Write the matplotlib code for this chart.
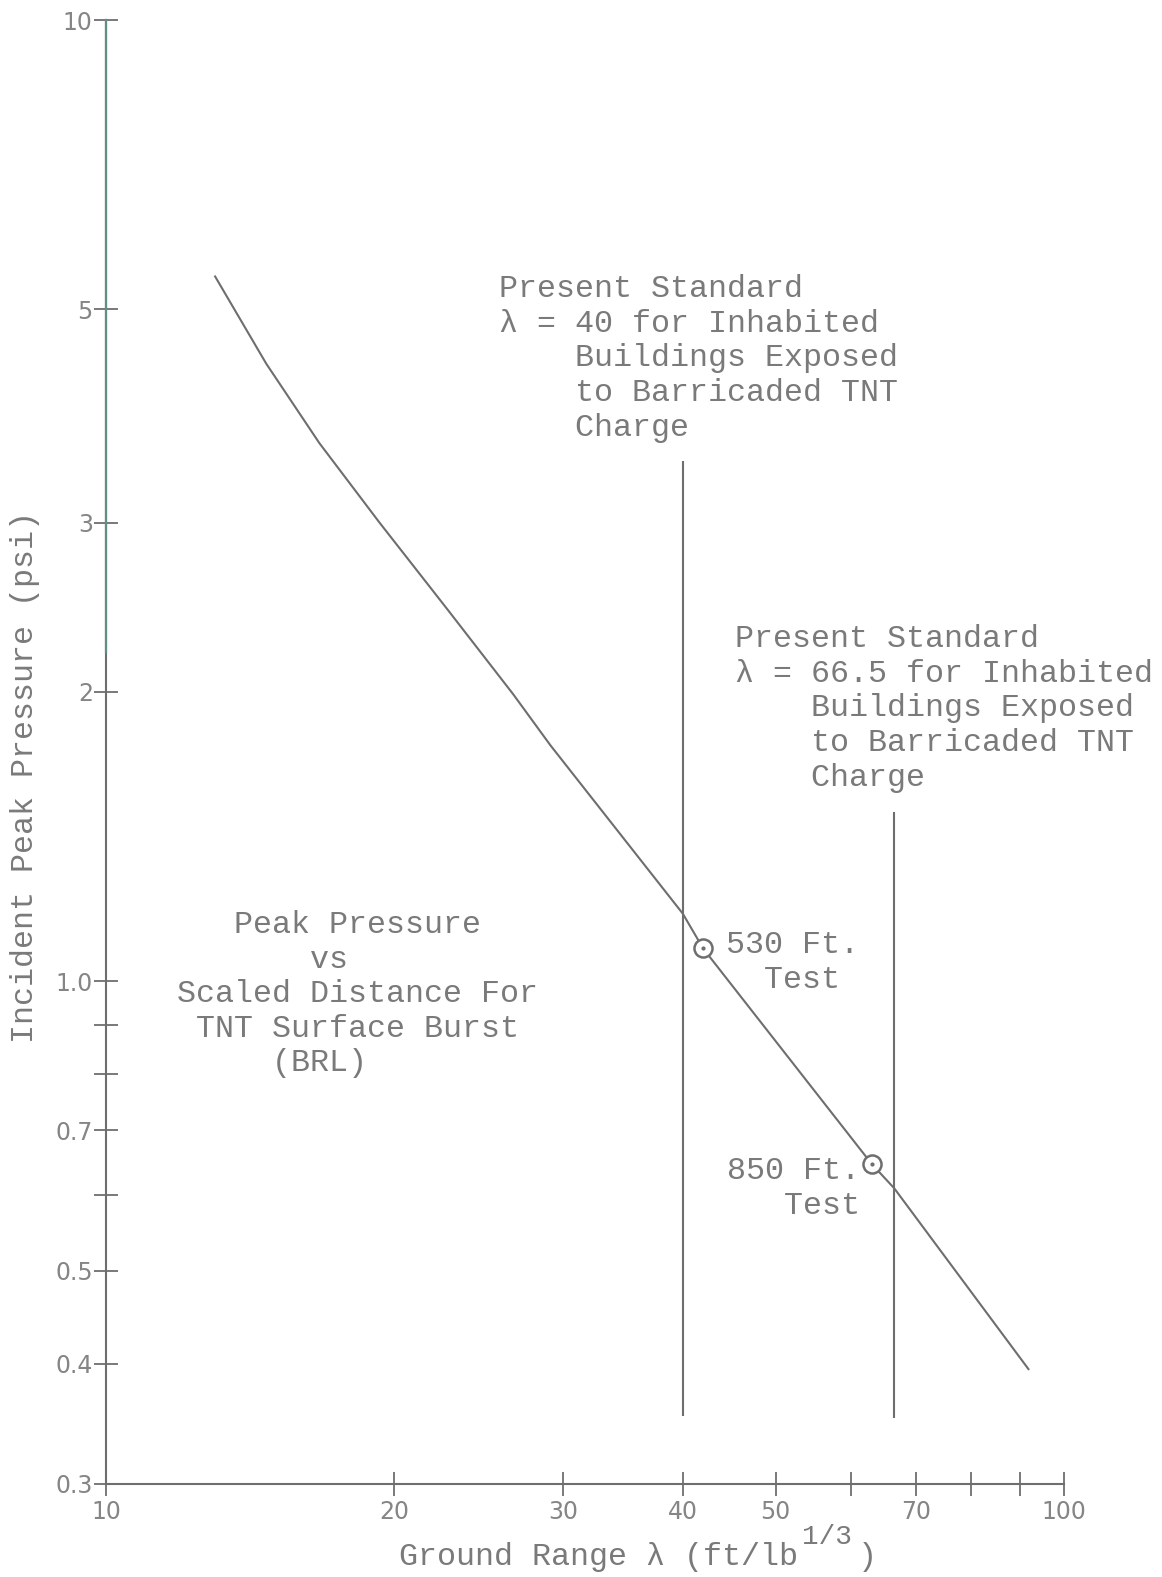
import matplotlib
matplotlib.use("Agg")
import matplotlib.pyplot as plt
from matplotlib.ticker import FixedLocator, FixedFormatter, NullLocator

# === Curve: peak pressure vs scaled distance (BRL) ===
lam = [13.0, 14.7, 16.7, 19.3, 22.7, 26.6, 29.1, 40.0, 42.0, 63.0, 66.5, 91.8]
psi = [5.41, 4.39, 3.63, 3.00, 2.44, 1.99, 1.76, 1.176, 1.082, 0.6455, 0.609, 0.395]

# === Test points ===
test_lam = [42.0, 63.0]
test_psi = [1.082, 0.6455]
test_labels = ["530 Ft.\n  Test", "850 Ft.\n   Test"]
test_text_pos = [(44.4, 0.984), (44.5, 0.573)]

# === Standards (vertical lines) ===
std_lam = [40, 66.5]
std_top = [3.48, 1.50]
std_bottom = [0.353, 0.351]
std_texts = [
    "Present Standard\nλ = 40 for Inhabited\n    Buildings Exposed\n    to Barricaded TNT\n    Charge",
    "Present Standard\nλ = 66.5 for Inhabited\n    Buildings Exposed\n    to Barricaded TNT\n    Charge",
]
std_text_pos = [(25.7, 3.695), (45.3, 1.598)]

title_text = "   Peak Pressure\n       vs\nScaled Distance For\n TNT Surface Burst\n     (BRL)"
title_pos = (11.86, 0.806)

# === Ticks ===
x_ticks = [10, 20, 30, 40, 50, 60, 70, 80, 90, 100]
x_labels = ["10", "20", "30", "40", "50", "", "70", "", "", "100"]
y_ticks = [0.3, 0.4, 0.5, 0.6, 0.7, 0.8, 0.9, 1.0, 2, 3, 5, 10]
y_labels = ["0.3", "0.4", "0.5", "", "0.7", "", "", "1.0", "2", "3", "5", "10"]

grigio = "#6e6e6e"
testo = "#7a7a7a"
mono = ["Liberation Mono", "DejaVu Sans Mono"]
fs = 22.9
ls = 1.2

fig = plt.figure(figsize=(11.62, 15.77), dpi=100)
ax = fig.add_axes([0.0912, 0.059, 0.8245, 0.9283])
ax.set_xscale("log")
ax.set_yscale("log")
ax.set_xlim(10, 100)
ax.set_ylim(0.3, 10)

# curva
ax.plot(lam, psi, color=grigio, linewidth=1.5, solid_joinstyle="round")

# linee verticali degli standard
ax.vlines(std_lam, std_bottom, std_top, color=grigio, linewidth=1.5)

# punti di prova (cerchio con punto)
ax.plot(test_lam, test_psi, "o", markersize=13, markerfacecolor="white",
        markeredgecolor=grigio, markeredgewidth=1.8, zorder=3)
ax.plot(test_lam, test_psi, ".", markersize=4, color=grigio, zorder=4)

# testi (y = linea di base dell'ultima riga)
for (x, y), t in zip(std_text_pos, std_texts):
    ax.text(x, y, t, family=mono, fontsize=fs, color=testo,
            ha="left", va="baseline", linespacing=ls)
for (x, y), t in zip(test_text_pos, test_labels):
    ax.text(x, y, t, family=mono, fontsize=fs, color=testo,
            ha="left", va="baseline", linespacing=ls)
ax.text(title_pos[0], title_pos[1], title_text, family=mono, fontsize=fs,
        color=testo, ha="left", va="baseline", linespacing=ls)

# === Assi ===
for s in ["top", "right"]:
    ax.spines[s].set_visible(False)
for s in ["left", "bottom"]:
    ax.spines[s].set_color(grigio)
    ax.spines[s].set_linewidth(1.5)
ax.plot([10, 10], [2.2, 10], color="#5f8f85", linewidth=1.6, clip_on=False, zorder=5)

ax.xaxis.set_major_locator(FixedLocator(x_ticks))
ax.xaxis.set_major_formatter(FixedFormatter(x_labels))
ax.yaxis.set_major_locator(FixedLocator(y_ticks))
ax.yaxis.set_major_formatter(FixedFormatter(y_labels))
ax.xaxis.set_minor_locator(NullLocator())
ax.yaxis.set_minor_locator(NullLocator())
ax.tick_params(axis="both", direction="inout", length=17, width=1.3,
               color=grigio, labelcolor="#858585", labelsize=17)
ax.tick_params(axis="y", pad=1)
ax.tick_params(axis="x", pad=3)

# etichette degli assi (esponente scritto a parte, come a macchina)
fig.text(0.3437, 0.0124, "Ground Range λ (ft/lb", family=mono, fontsize=fs,
         color=testo, ha="left", va="center")
fig.text(0.6905, 0.0255, "1/3", family=mono, fontsize=20, color=testo,
         ha="left", va="center")
fig.text(0.7385, 0.0124, ")", family=mono, fontsize=fs, color=testo,
         ha="left", va="center")
fig.text(0.0215, 0.507, "Incident Peak Pressure (psi)", family=mono, fontsize=fs,
         color=testo, ha="center", va="center", rotation=90)

fig.savefig("out.png", dpi=100)
